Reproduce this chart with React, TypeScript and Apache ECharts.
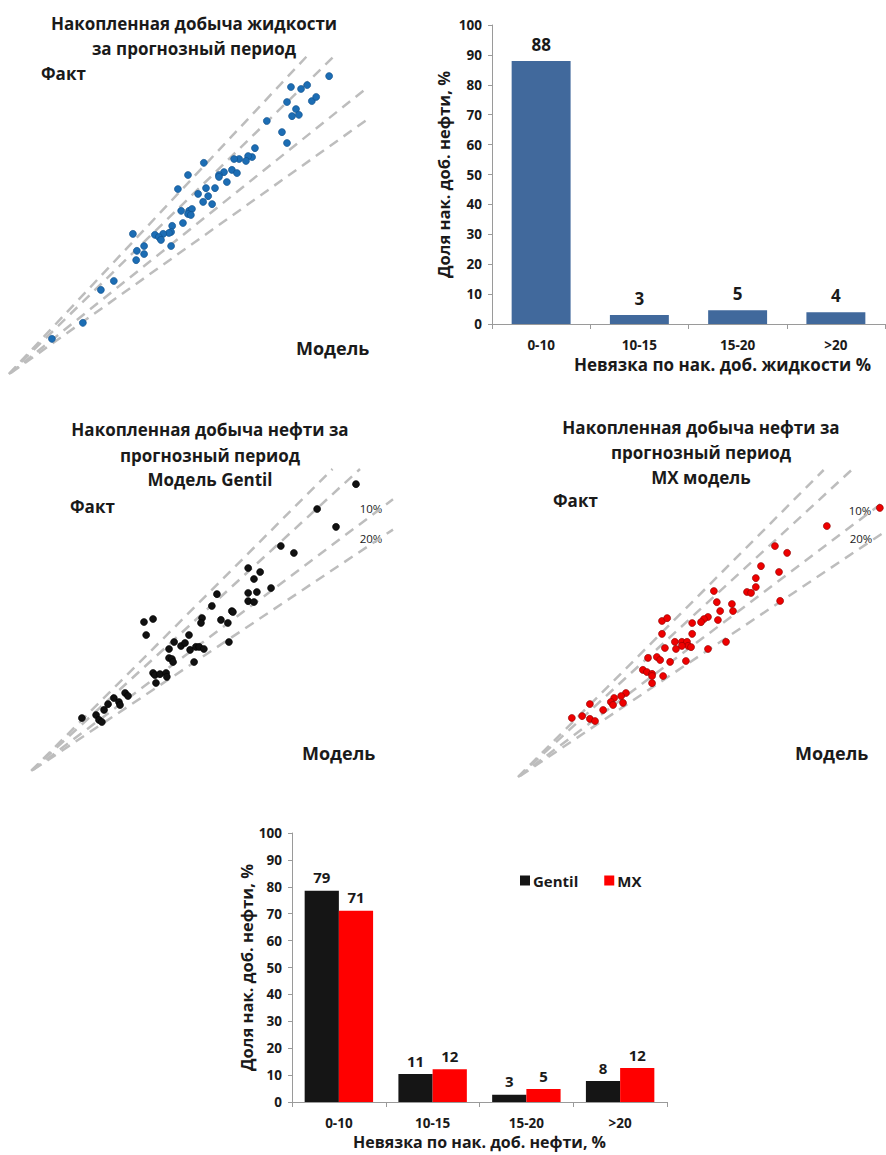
import React, { useEffect, useRef } from "react";
import * as echarts from "echarts";

// ---- Scatter data (model vs fact), relative units 0..100 ----
const liquidModel = [89.2, 78.6, 81.4, 83.1, 77.5, 84.4, 85.6, 80.0, 78.9, 80.8, 71.9, 76.1, 77.5, 68.6, 67.8, 66.7, 66.1, 64.2, 62.8, 62.2, 63.6, 60.8, 60.0, 58.6, 58.6, 54.4, 50.0, 47.2, 57.5, 55.0, 55.6, 52.8, 54.2, 56.7, 48.1, 50.3, 51.1, 50.0, 50.8, 48.6, 45.6, 45.3, 44.7, 43.1, 40.8, 41.9, 42.5, 45.3, 34.7, 37.8, 35.8, 37.8, 35.6, 29.4, 25.8, 20.8, 12.2];
const liquidFact = [93.4, 90.0, 89.4, 90.6, 85.3, 85.6, 86.9, 83.1, 80.9, 81.3, 79.4, 75.9, 72.5, 70.9, 68.1, 68.4, 66.9, 67.5, 67.5, 64.1, 63.1, 60.3, 63.4, 62.5, 61.9, 66.3, 62.5, 58.1, 58.4, 58.4, 55.9, 56.6, 54.1, 53.4, 51.3, 51.3, 51.9, 50.3, 50.0, 47.5, 46.6, 44.7, 44.4, 44.1, 43.8, 43.1, 42.2, 40.3, 44.1, 40.3, 38.8, 37.8, 35.9, 29.4, 26.6, 16.3, 11.3];

const gentilModel = [89.8, 79.1, 84.3, 69.1, 72.7, 60.1, 63.4, 61.7, 66.4, 60.1, 62.5, 60.1, 61.7, 51.5, 50.1, 55.6, 55.9, 47.4, 47.1, 52.6, 54.5, 54.8, 31.4, 33.9, 32.0, 43.8, 39.7, 38.3, 41.6, 42.7, 44.1, 45.7, 46.6, 47.9, 38.3, 39.1, 39.4, 45.2, 33.9, 34.4, 35.8, 37.5, 37.7, 34.7, 14.3, 18.2, 19.0, 19.8, 20.4, 21.5, 23.1, 24.5, 24.8, 26.2, 27.0];
const gentilFact = [95.0, 86.8, 80.9, 74.6, 72.3, 67.3, 66.0, 63.7, 60.7, 59.1, 59.4, 56.4, 56.1, 58.7, 54.8, 53.1, 52.8, 50.8, 49.2, 50.2, 49.2, 42.9, 49.5, 50.5, 45.2, 45.2, 42.9, 40.6, 41.6, 42.6, 40.3, 41.3, 41.3, 40.6, 37.6, 37.3, 36.3, 36.3, 32.7, 32.0, 32.3, 32.7, 31.4, 29.4, 17.8, 18.8, 17.2, 16.5, 20.5, 22.4, 24.4, 23.1, 22.1, 26.1, 25.1];

const mxModel = [98.6, 84.2, 70.1, 73.4, 66.3, 71.2, 64.9, 64.9, 62.5, 63.6, 71.5, 53.5, 54.3, 58.4, 58.7, 55.2, 54.6, 51.9, 50.8, 50.0, 47.6, 47.6, 56.8, 51.9, 39.4, 40.8, 39.4, 42.9, 44.8, 46.2, 46.5, 44.8, 43.2, 40.2, 47.3, 38.0, 38.9, 41.6, 45.9, 35.6, 34.2, 35.3, 36.7, 36.7, 39.7, 36.7, 29.6, 28.3, 26.4, 25.5, 26.1, 28.8, 23.4, 19.8, 17.7, 14.9, 19.8, 21.2];
const mxFact = [87.7, 81.8, 75.3, 73.1, 68.8, 66.9, 64.9, 62.0, 60.4, 60.1, 57.5, 60.7, 57.1, 56.5, 54.2, 54.2, 51.3, 52.3, 51.6, 50.6, 50.3, 46.8, 44.2, 41.9, 51.0, 51.9, 46.8, 44.2, 44.2, 44.2, 42.9, 42.9, 41.9, 42.2, 42.5, 39.3, 38.3, 37.7, 38.0, 39.0, 35.1, 34.4, 33.8, 33.1, 33.1, 30.8, 27.6, 26.6, 26.0, 24.7, 23.7, 24.4, 22.1, 24.0, 20.1, 19.5, 19.2, 18.5];

// guide lines: fact = ratio * model (+20%, +10%, -10%, -20%)
const guideRatios = [1.2, 1.1, 0.9, 0.8];

// ---- Bar data ----
const liquidCats = ["0-10", "10-15", "15-20", ">20"];
const liquidShare = [88, 3, 4.6, 3.9];
const liquidShareLabels = ["88", "3", "5", "4"];

const oilCats = ["0-10", "10-15", "15-20", ">20"];
const gentilShare = [78.5, 10.4, 2.7, 7.8];
const gentilShareLabels = ["79", "11", "3", "8"];
const mxShare = [71.1, 12.2, 4.8, 12.6];
const mxShareLabels = ["71", "12", "5", "12"];

const FONT = "'Open Sans', 'DejaVu Sans', sans-serif";
const TXT = "#1a1a1a";
const AXIS = "#9a9a9a";

function guideSeries(gridIdx: number) {
  return guideRatios.map((k) => ({
    type: "line" as const,
    xAxisIndex: gridIdx,
    yAxisIndex: gridIdx,
    data: k > 1 ? [[-3, -3 * k], [100 / k, 100]] : [[-3, -3 * k], [100, 100 * k]],
    symbol: "none",
    clip: false,
    silent: true,
    z: 1,
    lineStyle: { color: "#bdbdbd", width: 2.5, type: [10, 7] },
  }));
}

function scatterSeries(gridIdx: number, xs: number[], ys: number[], color: string, border: string) {
  return {
    type: "scatter" as const,
    xAxisIndex: gridIdx,
    yAxisIndex: gridIdx,
    data: xs.map((x, i) => [x, ys[i]]),
    symbolSize: 7,
    z: 3,
    itemStyle: { color, borderColor: border, borderWidth: 0.6, opacity: 1 },
  };
}

function hiddenValueAxis(gridIdx: number) {
  return { type: "value", gridIndex: gridIdx, min: 0, max: 100, show: false };
}

function catAxis(gridIdx: number, cats: string[], name: string, nameGap: number, shift: number, nameSize: number) {
  return {
    type: "category",
    gridIndex: gridIdx,
    data: cats,
    name,
    nameLocation: "middle",
    nameGap,
    nameTextStyle: { fontFamily: FONT, fontWeight: "bold", fontSize: nameSize, color: TXT, padding: [0, 0, 0, shift] },
    axisLine: { lineStyle: { color: AXIS, width: 1 } },
    axisTick: { show: true, length: 5, lineStyle: { color: AXIS } },
    axisLabel: { fontFamily: FONT, fontWeight: "bold", fontSize: 13.5, color: TXT, margin: 14 },
    splitLine: { show: false },
  };
}

function pctAxis(gridIdx: number, name: string, nameGap: number) {
  return {
    type: "value",
    gridIndex: gridIdx,
    min: 0,
    max: 100,
    interval: 10,
    name,
    nameLocation: "middle",
    nameGap,
    nameTextStyle: { fontFamily: FONT, fontWeight: "bold", fontSize: 16.5, color: TXT },
    axisLine: { show: true, lineStyle: { color: AXIS, width: 1 } },
    axisTick: { show: true, length: 4, lineStyle: { color: AXIS } },
    axisLabel: { fontFamily: FONT, fontWeight: "bold", fontSize: 13.5, color: TXT, margin: 10 },
    splitLine: { show: false },
  };
}

function txt(x: number, y: number, text: string, size: number, align: string, bold = true) {
  return {
    type: "text",
    x,
    y,
    silent: true,
    style: {
      text,
      fontFamily: FONT,
      fontWeight: bold ? "bold" : "normal",
      fontSize: size,
      fill: TXT,
      align,
      verticalAlign: "middle",
    },
  };
}

export default function App() {
  const ref = useRef<HTMLDivElement>(null);

  useEffect(() => {
    if (!ref.current) return;
    const chart = echarts.init(ref.current, undefined, { renderer: "svg" });

    const barLabel = (labels: string[], size: number, dist: number) => ({
      show: true,
      position: "top",
      distance: dist,
      fontFamily: FONT,
      fontWeight: "bold",
      fontSize: size,
      color: TXT,
      formatter: (p: any) => labels[p.dataIndex],
    });

    const option: any = {
      animation: false,
      backgroundColor: "#ffffff",
      grid: [
        { left: 8, top: 55, width: 360, height: 320 },
        { left: 492, top: 25, width: 393, height: 299 },
        { left: 30, top: 469, width: 363, height: 303 },
        { left: 517, top: 470, width: 368, height: 308 },
        { left: 292, top: 833, width: 375, height: 269 },
      ],
      xAxis: [
        hiddenValueAxis(0),
        catAxis(1, liquidCats, "Невязка по нак. доб. жидкости %", 32, 68, 17),
        hiddenValueAxis(2),
        hiddenValueAxis(3),
        catAxis(4, oilCats, "Невязка по нак. доб. нефти, %", 32, 0, 16),
      ],
      yAxis: [
        hiddenValueAxis(0),
        pctAxis(1, "Доля нак. доб. нефти, %", 40),
        hiddenValueAxis(2),
        hiddenValueAxis(3),
        pctAxis(4, "Доля нак. доб. нефти, %", 37),
      ],
      legend: {
        data: ["Gentil", "MX"],
        left: 515,
        top: 868,
        icon: "rect",
        itemWidth: 10,
        itemHeight: 10,
        itemGap: 26,
        textStyle: { fontFamily: FONT, fontWeight: "bold", fontSize: 15, color: TXT, padding: [0, 0, 0, -2] },
      },
      series: [
        ...guideSeries(0),
        scatterSeries(0, liquidModel, liquidFact, "#1c6db4", "#0f4f8a"),
        ...guideSeries(2),
        scatterSeries(2, gentilModel, gentilFact, "#111111", "#000000"),
        ...guideSeries(3),
        scatterSeries(3, mxModel, mxFact, "#ee0000", "#8a0000"),
        {
          type: "bar",
          name: "Доля",
          xAxisIndex: 1,
          yAxisIndex: 1,
          data: liquidShare,
          barWidth: "60%",
          itemStyle: { color: "#41699c" },
          label: barLabel(liquidShareLabels, 17, 8),
        },
        {
          type: "bar",
          name: "Gentil",
          xAxisIndex: 4,
          yAxisIndex: 4,
          data: gentilShare,
          barGap: "0%",
          barCategoryGap: "27%",
          itemStyle: { color: "#151515" },
          label: barLabel(gentilShareLabels, 15, 6),
        },
        {
          type: "bar",
          name: "MX",
          xAxisIndex: 4,
          yAxisIndex: 4,
          data: mxShare,
          barGap: "0%",
          barCategoryGap: "27%",
          itemStyle: { color: "#ff0000" },
          label: barLabel(mxShareLabels, 15, 6),
        },
      ],
      graphic: [
        txt(194, 23, "Накопленная добыча жидкости", 17, "center"),
        txt(194, 48, "за прогнозный период", 17, "center"),
        txt(41, 73, "Факт", 17, "left"),
        txt(296, 348, "Модель", 18, "left"),

        txt(210, 429, "Накопленная добыча нефти за", 17, "center"),
        txt(210, 455, "прогнозный период", 17, "center"),
        txt(210, 479, "Модель Gentil", 17, "center"),
        txt(70, 506, "Факт", 17, "left"),
        txt(302, 753, "Модель", 18, "left"),
        txt(371, 508, "10%", 11.5, "center", false),
        txt(371, 538, "20%", 11.5, "center", false),

        txt(701, 427, "Накопленная добыча нефти за", 17, "center"),
        txt(701, 452, "прогнозный период", 17, "center"),
        txt(701, 477, "MX модель", 17, "center"),
        txt(553, 500, "Факт", 17, "left"),
        txt(795, 753, "Модель", 18, "left"),
        txt(860, 510, "10%", 11.5, "center", false),
        txt(861, 538, "20%", 11.5, "center", false),
      ],
    };

    chart.setOption(option);
    return () => chart.dispose();
  }, []);

  return (
    <div
      ref={ref}
      style={{ position: "absolute", left: 0, top: 0, width: 886, height: 1155, background: "#fff" }}
    />
  );
}
